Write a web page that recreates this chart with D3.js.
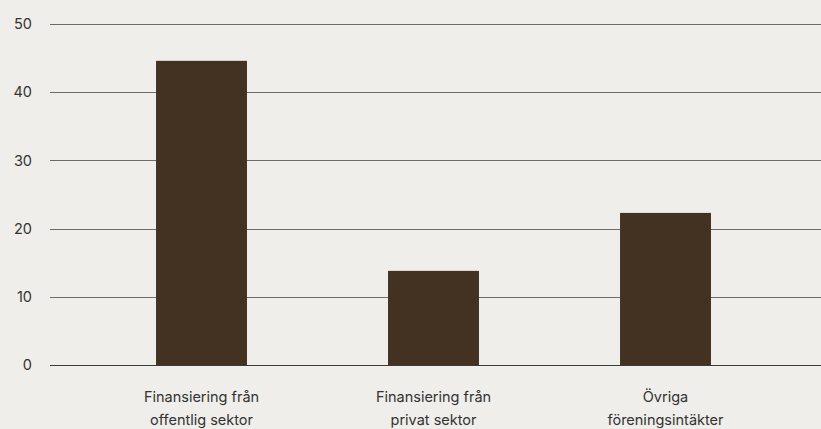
<!DOCTYPE html>
<html><head><meta charset="utf-8">
<script src="https://cdn.jsdelivr.net/npm/d3@7"></script>
<style>
html,body{margin:0;padding:0;background:#efeeea;}
svg{display:block;}
text{font-family:Inter,"Open Sans",sans-serif;}
</style></head>
<body><svg id="c" width="821" height="429"></svg>
<script>
const categories = [["Finansiering från","offentlig sektor"],["Finansiering från","privat sektor"],["Övriga","föreningsintäkter"]];
const values = [44.6, 13.8, 22.3];
const yTicks = [0, 10, 20, 30, 40, 50];

const svg = d3.select("#c");
const W = 821, H = 429;
const gridLeft = 50, gridRight = 821;
const y = d3.scaleLinear().domain([0, 50]).range([365, 24]);
const x = d3.scaleBand().domain(d3.range(values.length)).range([85.5, 781.5]).paddingInner(0.608).paddingOuter(0.304);

svg.append("rect").attr("width", W).attr("height", H).attr("fill", "#efeeea");

const g = svg.append("g");
g.selectAll("line.grid").data(yTicks).join("line")
  .attr("class","grid")
  .attr("x1", gridLeft).attr("x2", gridRight)
  .attr("y1", d => Math.round(y(d)) + 0.5).attr("y2", d => Math.round(y(d)) + 0.5)
  .attr("stroke", d => d === 0 ? "#3a3a3a" : "#6b6b6b").attr("stroke-width", 1);

g.selectAll("text.yt").data(yTicks).join("text")
  .attr("class","yt")
  .attr("x", 32).attr("y", d => y(d)).attr("dy", "0.36em")
  .attr("text-anchor", "end").attr("font-size", 14.5).attr("fill", "#333")
  .text(d => d);

g.selectAll("rect.bar").data(values).join("rect")
  .attr("class","bar")
  .attr("x", (d,i) => x(i)).attr("width", x.bandwidth())
  .attr("y", d => y(d)).attr("height", d => y(0) - y(d))
  .attr("fill", "#433122");

const lab = g.selectAll("text.xl").data(categories).join("text")
  .attr("class","xl")
  .attr("text-anchor","middle").attr("font-size", 14.5).attr("fill", "#333")
  .attr("transform", (d,i) => `translate(${x(i) + x.bandwidth()/2},0)`);
lab.selectAll("tspan").data(d => d).join("tspan")
  .attr("x", 0).attr("y", (d,j) => 402 + j * 23)
  .text(d => d);
</script></body></html>
